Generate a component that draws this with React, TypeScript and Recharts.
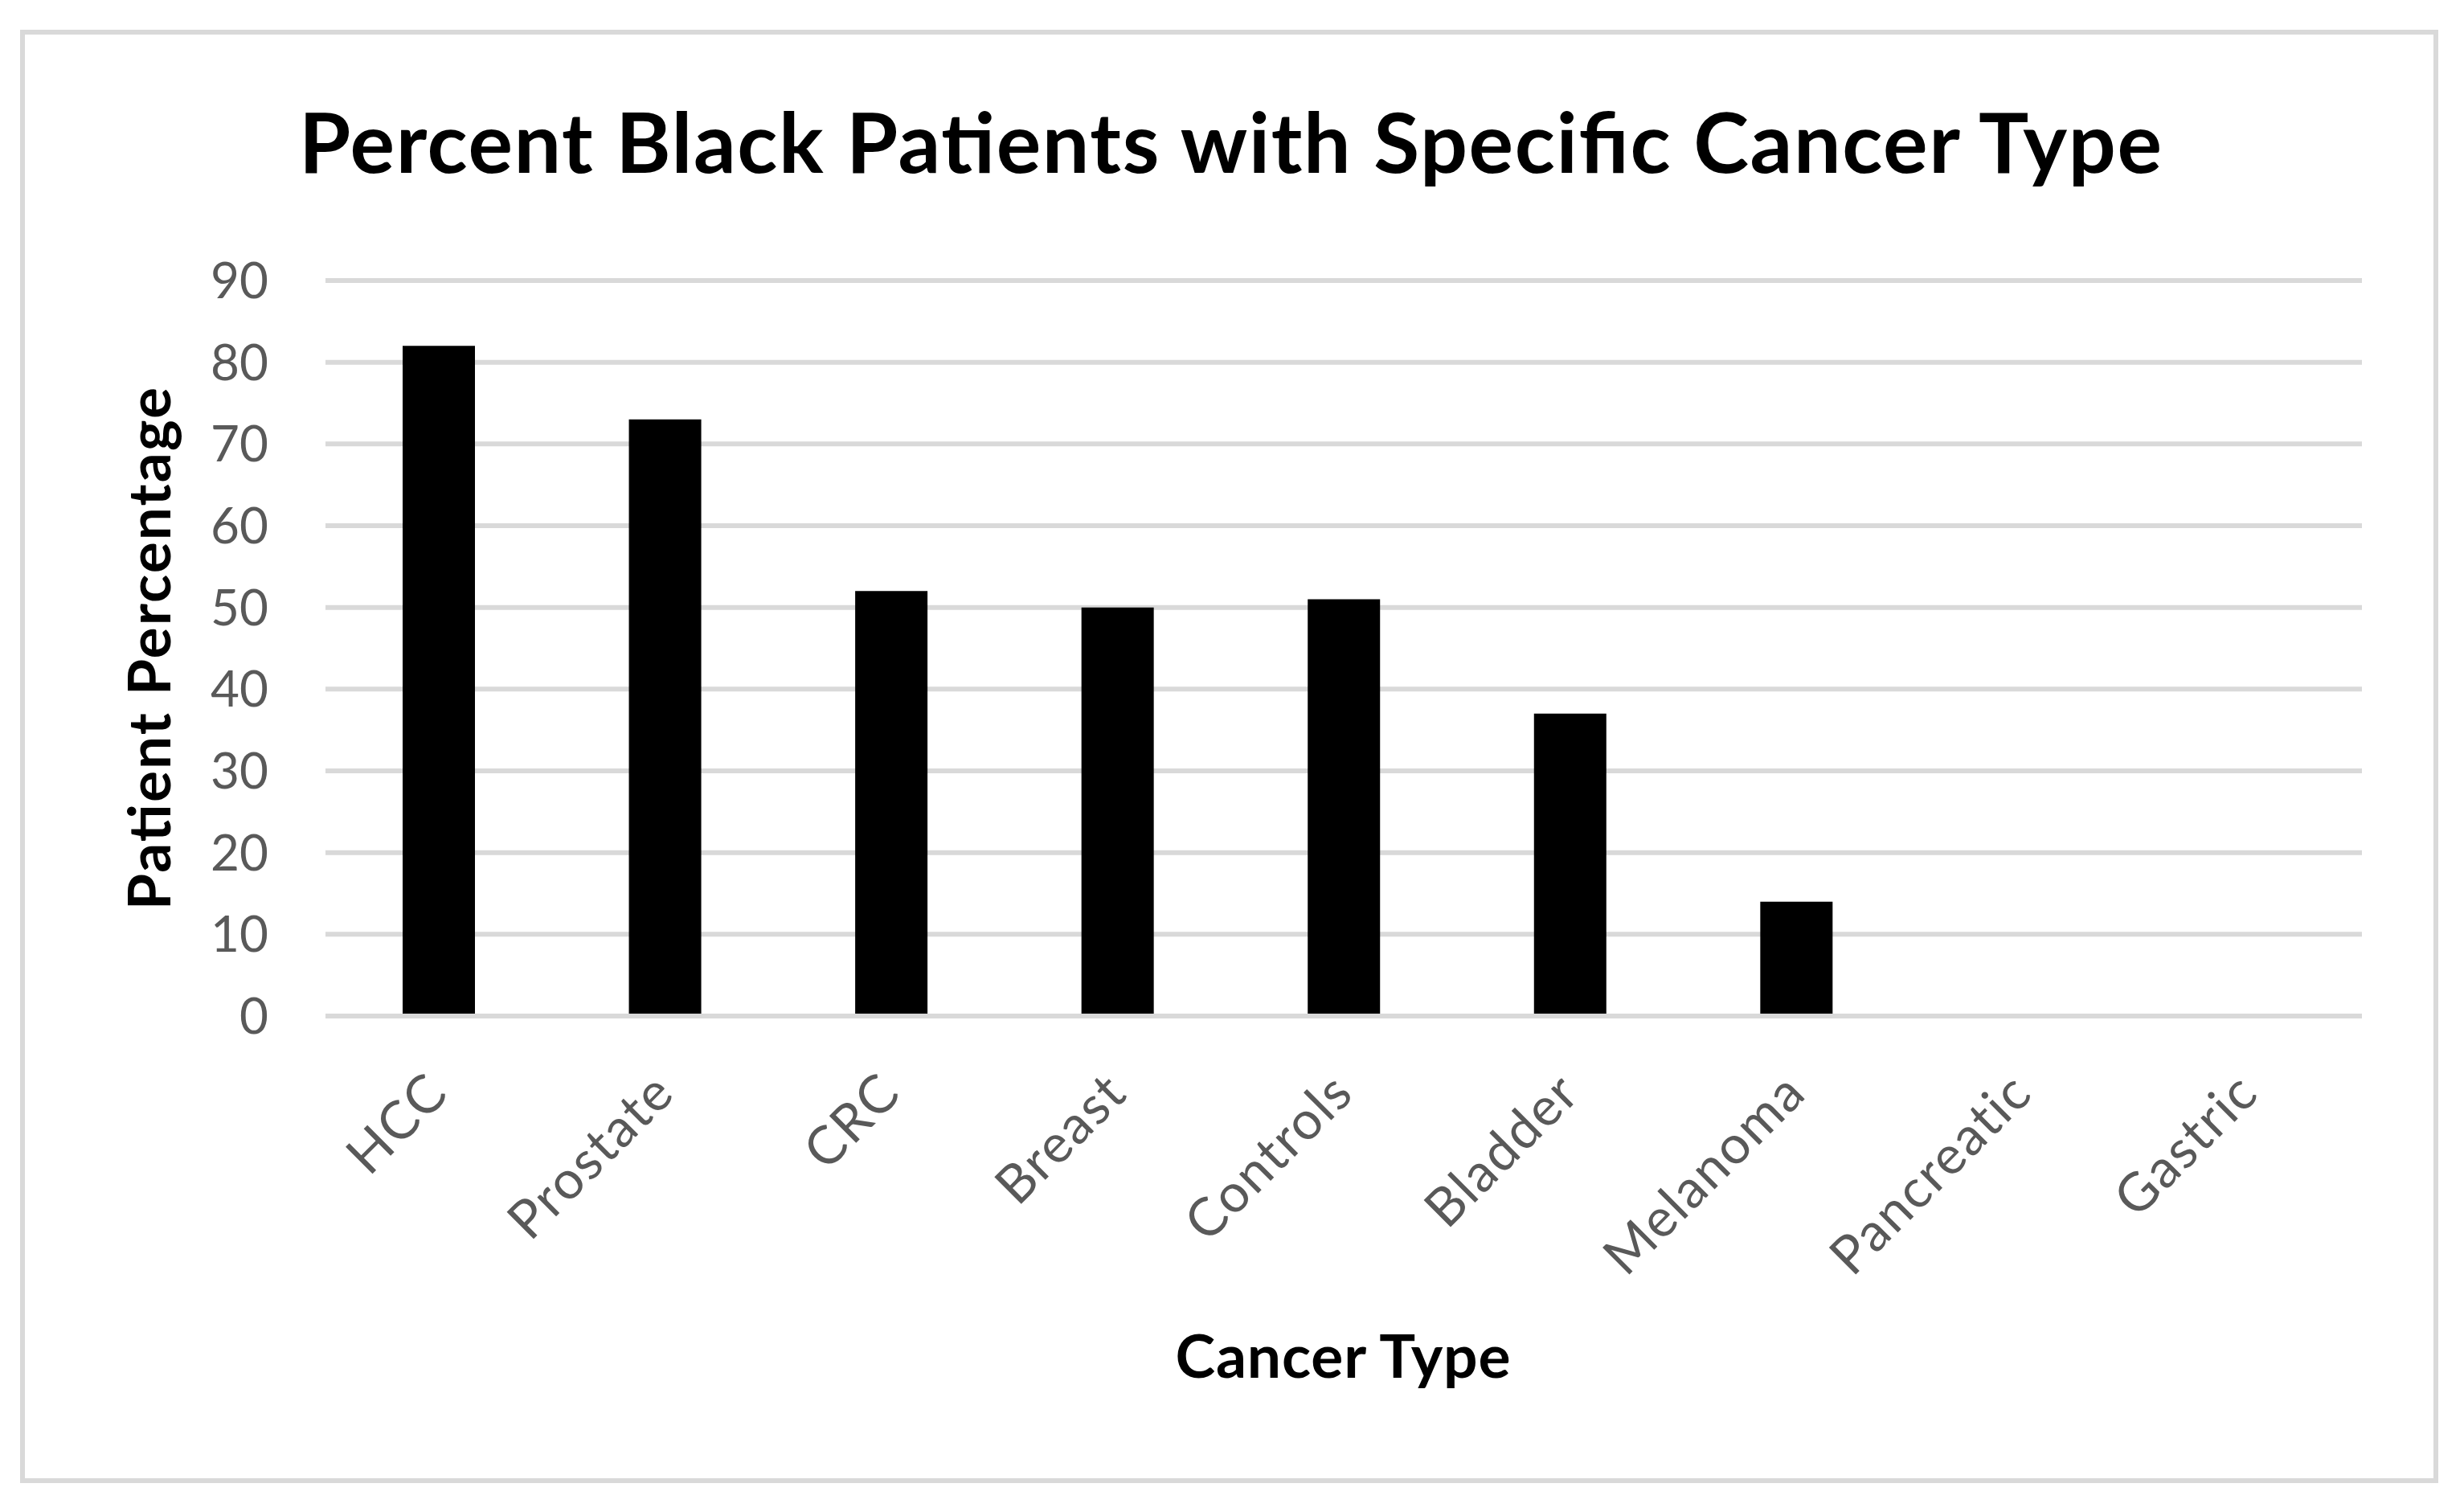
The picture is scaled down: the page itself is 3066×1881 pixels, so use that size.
import React from 'react';
import { BarChart, Bar, XAxis, YAxis, CartesianGrid } from 'recharts';

const categories = ['HCC', 'Prostate', 'CRC', 'Breast', 'Controls', 'Bladder', 'Melanoma', 'Pancreatic', 'Gastric'];
const values = [82, 73, 52, 50, 51, 37, 14, 0, 0];
const yTicks = [0, 10, 20, 30, 40, 50, 60, 70, 80, 90];
const chartTitle = 'Percent Black Patients with Specific Cancer Type';
const xTitle = 'Cancer Type';
const yTitle = 'Patient Percentage';

const data = categories.map((c, i) => ({ name: c, value: values[i] }));

const W = 3066;
const H = 1881;
const FONT = 'Lato, "Open Sans", sans-serif';

const CategoryTick = (props: any) => {
  const { x, y, payload } = props;
  const ax = x + 15;
  const ay = y + 99;
  return (
    <text
      x={ax}
      y={ay}
      transform={`rotate(-45, ${ax}, ${ay})`}
      textAnchor="end"
      fill="#595959"
      fontSize={66}
      letterSpacing={2}
      fontFamily={FONT}
    >
      {payload.value}
    </text>
  );
};

export default function App() {
  return (
    <div style={{ position: 'absolute', left: 0, top: 0, width: W, height: H, background: '#fff' }}>
      <div
        style={{
          position: 'absolute',
          left: 25,
          top: 37,
          width: 3009,
          height: 1808,
          border: '6px solid #d9d9d9',
          boxSizing: 'border-box',
        }}
      />
      <div style={{ position: 'absolute', left: 0, top: 0 }}>
        <BarChart
          width={W}
          height={H}
          data={data}
          margin={{ top: 349, right: 127, bottom: 517, left: 255 }}
          barCategoryGap={0}
        >
          <CartesianGrid vertical={false} stroke="#d9d9d9" strokeWidth={6} />
          <XAxis
            dataKey="name"
            height={100}
            interval={0}
            axisLine={{ stroke: '#d9d9d9', strokeWidth: 6 }}
            tickLine={false}
            tickSize={0}
            tickMargin={0}
            tick={<CategoryTick />}
          />
          <YAxis
            width={150}
            domain={[0, 90]}
            ticks={yTicks}
            interval={0}
            axisLine={false}
            tickLine={false}
            tickSize={0}
            tickMargin={71}
            tick={{ fill: '#595959', fontSize: 62, fontFamily: FONT }}
          />
          <Bar dataKey="value" fill="#000000" barSize={90} isAnimationActive={false} />
        </BarChart>
      </div>
      <svg
        width={W}
        height={H}
        style={{ position: 'absolute', left: 0, top: 0, pointerEvents: 'none' }}
      >
        <text
          x={1531}
          y={215}
          textAnchor="middle"
          fontFamily={FONT}
          fontWeight={700}
          fontSize={104}
          textLength={2318}
          lengthAdjust="spacing"
          fill="#000"
        >
          {chartTitle}
        </text>
        <text
          x={1671}
          y={1714}
          textAnchor="middle"
          fontFamily={FONT}
          fontWeight={700}
          fontSize={75}
          textLength={417}
          lengthAdjust="spacing"
          fill="#000"
        >
          {xTitle}
        </text>
        <text
          x={212}
          y={807}
          transform="rotate(-90, 212, 807)"
          textAnchor="middle"
          fontFamily={FONT}
          fontWeight={700}
          fontSize={73}
          textLength={650}
          lengthAdjust="spacing"
          fill="#000"
        >
          {yTitle}
        </text>
      </svg>
    </div>
  );
}
